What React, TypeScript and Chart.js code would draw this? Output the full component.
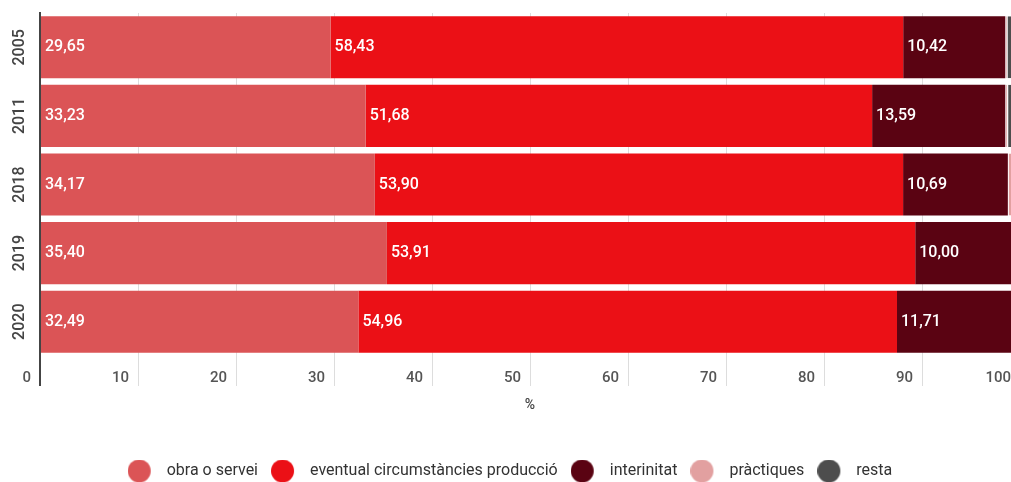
import React, { useEffect, useRef } from "react";
import { Chart, registerables } from "chart.js";

Chart.register(...registerables);

const years = ["2005", "2011", "2018", "2019", "2020"];
const obraServei = [29.65, 33.23, 34.17, 35.4, 32.49];
const eventual = [58.43, 51.68, 53.9, 53.91, 54.96];
const interinitat = [10.42, 13.59, 10.69, 10.0, 11.71];
const practiques = [0.15, 0.2, 0.6, 0.3, 0.4];
const resta = [1.35, 1.3, 0.64, 0.39, 0.44];
const seriesNames = [
  "obra o servei",
  "eventual circumstàncies producció",
  "interinitat",
  "pràctiques",
  "resta",
];
const seriesColors = ["#DB5456", "#EB1016", "#5A0312", "#E2A0A0", "#4D4D4D"];
const labelledSeries = 3;

const fmt = (v: number) => v.toFixed(2).replace(".", ",");

const barLabels = {
  id: "barLabels",
  afterDatasetsDraw(chart: any) {
    const ctx = chart.ctx;
    ctx.save();
    ctx.font = "500 16px Roboto";
    ctx.fillStyle = "#ffffff";
    ctx.textAlign = "left";
    ctx.textBaseline = "middle";
    for (let d = 0; d < labelledSeries; d++) {
      const meta = chart.getDatasetMeta(d);
      meta.data.forEach((el: any, i: number) => {
        const v = chart.data.datasets[d].data[i];
        const left = Math.min(el.base, el.x);
        ctx.fillText(fmt(v), left + 4, el.y);
      });
    }
    ctx.restore();
  },
};

function markerFor(color: string) {
  const c = document.createElement("canvas");
  c.width = 31;
  c.height = 23;
  const g = c.getContext("2d")!;
  g.fillStyle = color;
  g.beginPath();
  g.arc(11.5, 11.5, 11.5, 0, Math.PI * 2);
  g.fill();
  return c;
}

export default function App() {
  const ref = useRef<HTMLCanvasElement>(null);
  useEffect(() => {
    if (!ref.current) return;
    const allSeries = [obraServei, eventual, interinitat, practiques, resta];
    const markers = seriesColors.map(markerFor);
    const chart = new Chart(ref.current, {
      type: "bar",
      data: {
        labels: years,
        datasets: allSeries.map((s, i) => ({
          label: seriesNames[i],
          data: s,
          backgroundColor: seriesColors[i],
          borderColor: "rgba(255,255,255,0.7)",
          borderWidth: i >= 3 ? { left: 1 } : 0,
          borderSkipped: false,
          barPercentage: 0.905,
          categoryPercentage: 1,
        })),
      },
      options: {
        indexAxis: "y",
        animation: false,
        responsive: false,
        devicePixelRatio: 1,
        layout: { padding: { top: 13, right: 5, left: 0, bottom: 0 } },
        scales: {
          x: {
            stacked: true,
            min: 0,
            max: 100,
            ticks: {
              stepSize: 10,
              align: "end",
              labelOffset: -9,
              padding: -17,
              color: "#555",
              font: { family: "Roboto", size: 15, weight: "500" },
            },
            grid: {
              color: (c: any) => (c.index === 0 ? "#444" : "#dddddd"),
              lineWidth: (c: any) => (c.index === 0 ? 2 : 1),
              tickLength: 30,
              drawTicks: true,
            },
            border: { display: false },
            title: {
              display: true,
              text: "%",
              color: "#444",
              font: { family: "Roboto", size: 14, weight: "500" },
              padding: { top: 0, bottom: 36 },
            },
            afterFit: (s: any) => {
              s.height = 94;
            },
          },
          y: {
            stacked: true,
            ticks: {
              minRotation: 90,
              maxRotation: 90,
              crossAlign: "center",
              padding: -6,
              color: "#444",
              font: { family: "Roboto", size: 16, weight: "500" },
            },
            grid: { display: false },
            border: { display: true, color: "#444", width: 2 },
            afterFit: (s: any) => {
              s.width = 40;
            },
          },
        },
        plugins: {
          legend: {
            position: "bottom",
            labels: {
              usePointStyle: true,
              boxHeight: 15,
              pointStyleWidth: 31,
              padding: 13,
              color: "#333",
              font: { family: "Roboto", size: 16 },
              generateLabels: (ch: any) => {
                const items = Chart.defaults.plugins.legend.labels.generateLabels(ch);
                items.forEach((it: any, i: number) => {
                  it.pointStyle = markers[i];
                });
                return items;
              },
            },
          },
          tooltip: { enabled: false },
        },
      },
      plugins: [barLabels],
    } as any);
    return () => chart.destroy();
  }, []);
  return (
    <div
      style={{
        position: "absolute",
        left: 0,
        top: 0,
        width: 1011,
        height: 482,
        overflow: "hidden",
        background: "#fff",
      }}
    >
      <canvas ref={ref} width={1025} height={489} style={{ display: "block" }} />
    </div>
  );
}
